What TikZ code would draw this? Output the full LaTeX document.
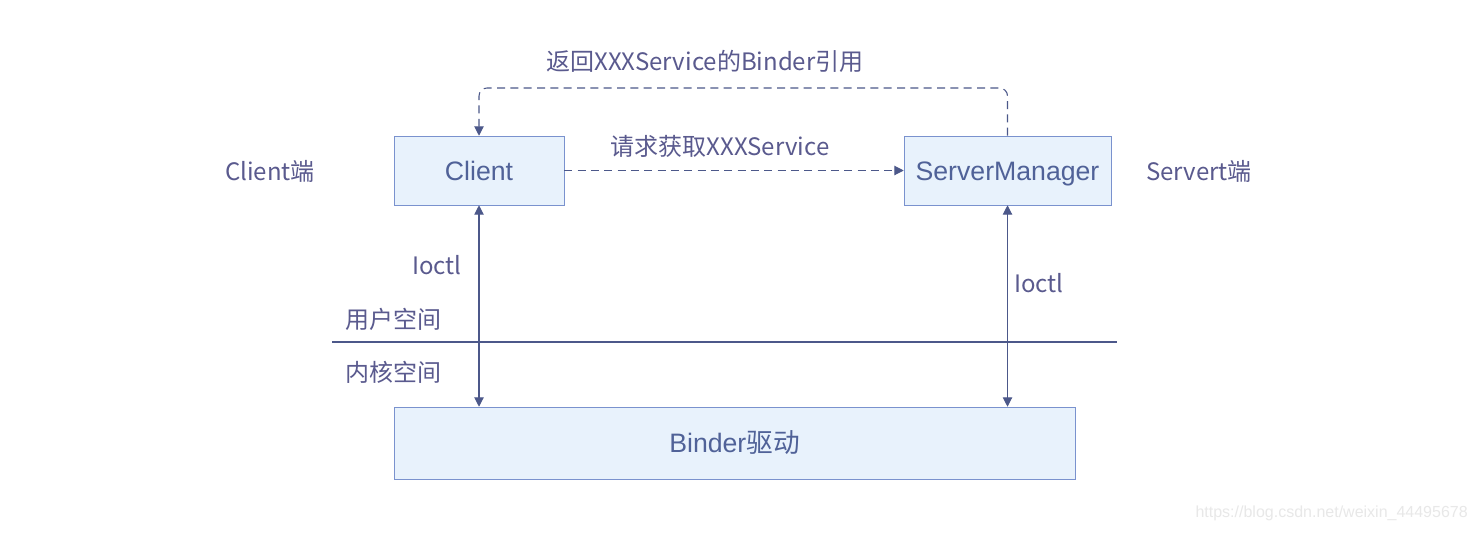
\documentclass[tikz,border=0pt]{standalone}
\usepackage{fontspec}
\setmainfont{Noto Sans CJK SC}
\newfontfamily\boxfont{Liberation Sans}
\newfontfamily\cjk{Noto Sans CJK SC}
\usetikzlibrary{arrows.meta}
\definecolor{labelcol}{RGB}{90,90,142}
\definecolor{boxtext}{RGB}{80,98,152}
\definecolor{boxfill}{RGB}{232,242,252}
\definecolor{boxdraw}{RGB}{122,146,206}
\definecolor{linecol}{RGB}{76,88,138}

\begin{document}
\begin{tikzpicture}[x=0.75pt,y=-0.75pt,>={Triangle[length=7pt,width=7pt]},
  block/.style={draw=boxdraw,fill=boxfill,text=boxtext,font=\boxfont\fontsize{20pt}{24pt}\selectfont,
    inner sep=0pt,text height=14.4pt,text depth=0pt},
  tag/.style={text=labelcol,font=\fontsize{18pt}{21pt}\selectfont,inner sep=0pt},
  link/.style={draw=linecol,line width=0.8pt}]
\useasboundingbox[fill=white] (0,0) rectangle (1477,532);

% boxes
\node[block,minimum width=170*0.75pt,minimum height=69*0.75pt] (client) at (479,170.5) {Client};
\node[block,minimum width=207*0.75pt,minimum height=69*0.75pt] (sm) at (1007.5,170.5) {ServerManager};
\node[block,minimum width=681*0.75pt,minimum height=72*0.75pt] (binder) at (734.5,443) {Binder{\cjk 驱动}};

% side labels
\node[tag] (cside) at (270,171) {Client端};
\node[tag] (sside) at (1199,171) {Servert端};
\node[tag] (ret) at (705,61) {返回XXXService的Binder引用};
\node[tag] (req) at (720,146) {请求获取XXXService};
\node[tag] (ioc1) at (437,265) {Ioctl};
\node[tag] (ioc2) at (1039,283) {Ioctl};
\node[tag] (user) at (393,319) {用户空间};
\node[tag] (kern) at (393,372) {内核空间};

% user / kernel border
\coordinate (lineL) at (332,342);
\coordinate (lineR) at (1117,342);
\draw[link] (lineL) -- (lineR);

% calls
\coordinate (top) at (743,88);
\draw[link,->,dash pattern=on 6pt off 4pt] (client.east) -- (sm.west);
\draw[link,->,dash pattern=on 6pt off 4pt,rounded corners=6pt] (sm.north) |- (top) -| (client.north);
\draw[link,<->] (client.south) -- (client.south |- binder.north);
\draw[link,<->] (sm.south) -- (sm.south |- binder.north);

% watermark
\node[anchor=east,text=black!9,font=\boxfont\fontsize{12pt}{14pt}\selectfont,inner sep=0pt] (wm) at (1468,513) {https://blog.csdn.net/weixin\_44495678};
\end{tikzpicture}
\end{document}
